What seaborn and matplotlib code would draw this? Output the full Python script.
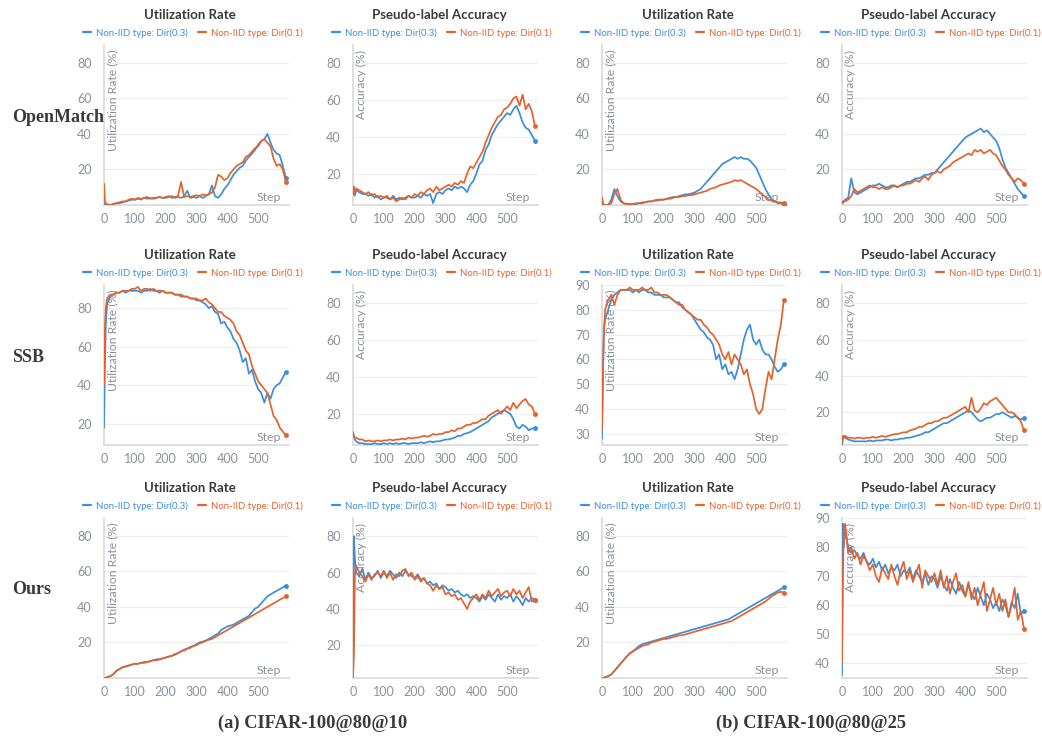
import pandas as pd
import matplotlib.pyplot as plt
import seaborn as sns
from matplotlib.lines import Line2D

# steps logged (first few steps are denser)
STEPS = [0, 3, 6] + list(range(10, 600, 10))

# ---------------- OpenMatch ----------------
om_util_a_03 = [1, 0, 0,
                0, 0, 0.5, 1, 1, 1.5, 2, 2.5, 3, 3,
                3.5, 3, 4, 3.5, 4, 3.5, 4, 4.5, 4, 4,
                4.5, 5, 4, 4.5, 4, 5, 8, 4, 4.5, 4,
                5, 4, 5, 6, 11, 5, 4, 6, 9, 11,
                14, 17, 19, 21, 22, 25, 27, 29, 31, 34,
                36, 37, 40, 35, 31, 29, 28, 22, 15]
om_util_a_01 = [12, 2, 1,
                0.5, 0, 0.5, 1, 1.5, 2, 2, 3, 3.5, 3,
                4, 3.5, 4, 4.5, 3.5, 4, 4, 4.5, 4, 4.5,
                5, 4, 4.5, 5, 13, 4.5, 5, 4.5, 5, 5.5,
                5, 6, 5.5, 6, 7, 10, 17, 16, 14, 15,
                18, 20, 22, 23, 24, 27, 28, 30, 32, 33,
                36, 37, 35, 33, 26, 22, 23, 20, 13]
om_acc_a_03 = [9, 10, 8,
               11, 10, 9, 9, 8, 9, 7, 8, 6, 7,
               7, 6, 8, 6, 7, 6, 7, 8, 7, 7,
               8, 7, 9, 8, 9, 4, 9, 10, 9, 11,
               12, 11, 13, 12, 13, 12, 10, 14, 16, 20,
               25, 27, 33, 36, 41, 44, 47, 49, 51, 53,
               52, 55, 57, 53, 48, 45, 44, 41, 38]
om_acc_a_01 = [10, 13, 9,
               12, 11, 10, 9, 10, 8, 9, 7, 8, 7,
               8, 6, 7, 5, 6, 7, 6, 8, 7, 9,
               8, 10, 9, 11, 12, 10, 13, 11, 12, 13,
               14, 13, 15, 14, 16, 15, 20, 24, 23, 26,
               29, 32, 37, 41, 45, 48, 51, 52, 55, 56,
               58, 61, 62, 57, 63, 55, 58, 54, 46]
om_util_b_03 = [4, 0, 0,
                0, 0, 3, 9, 5, 2, 1, 0.5, 0.5, 0.5,
                0.5, 1, 1, 1.5, 2, 2, 2.5, 3, 3, 3,
                3.5, 4, 4.5, 4.5, 5, 5.5, 6, 6, 6.5, 7,
                8, 9, 11, 13, 15, 17, 19, 21, 23, 24,
                25, 26, 27, 26, 27, 26, 26, 25, 23, 21,
                17, 13, 9, 6, 3, 2, 1, 1, 0]
om_util_b_01 = [4, 1, 0,
                0, 0, 1, 6, 9, 3, 1, 0.5, 0.5, 0.5,
                1, 1, 1.5, 1.5, 2, 2, 2.5, 2.5, 3, 3,
                3.5, 3.5, 4, 4.5, 4.5, 5, 5, 5.5, 5.5, 6,
                6.5, 7, 7.5, 8, 9, 9.5, 10, 11, 11.5, 12,
                12.5, 13, 14, 13.5, 14, 13, 12, 11, 10, 9,
                7.5, 6, 4.5, 3, 2.5, 2, 1.5, 1.5, 1]
om_acc_b_03 = [2, 1, 2,
               3, 4, 15, 7, 6, 7, 8, 9, 10, 11,
               11, 12, 11, 10, 10, 11, 11, 10, 11, 12,
               13, 13, 14, 15, 15, 16, 17, 17, 18, 18,
               20, 22, 24, 26, 28, 30, 32, 34, 36, 38,
               39, 40, 41, 42, 43, 41, 42, 40, 38, 36,
               32, 26, 21, 18, 15, 12, 9, 7, 5]
om_acc_b_01 = [1, 2, 2,
               2, 3, 5, 9, 7, 8, 9, 10, 11, 10,
               10, 9, 10, 9, 9, 10, 11, 10, 11, 11,
               12, 12, 13, 14, 13, 15, 16, 14, 17, 18,
               19, 18, 20, 21, 22, 24, 25, 26, 27, 28,
               29, 28, 31, 30, 31, 29, 30, 31, 29, 28,
               25, 22, 20, 17, 15, 13, 15, 14, 12]

# ---------------- SSB ----------------
ssb_util_a_03 = [18, 50, 72,
                 82, 86, 87, 88, 88, 89, 88, 89, 89, 89,
                 89, 88, 89, 89, 90, 89, 89, 88, 89, 88,
                 88, 88, 87, 87, 87, 86, 86, 85, 85, 84,
                 84, 83, 82, 80, 81, 78, 77, 72, 73, 70,
                 68, 64, 62, 58, 52, 54, 46, 48, 42, 38,
                 36, 31, 36, 33, 38, 40, 41, 44, 47]
ssb_util_a_01 = [40, 70, 80,
                 85, 87, 87, 88, 88, 89, 89, 89, 90, 90,
                 91, 89, 90, 90, 89, 90, 89, 89, 89, 88,
                 88, 88, 87, 87, 86, 86, 86, 85, 85, 85,
                 84, 84, 85, 83, 82, 80, 78, 78, 76, 75,
                 74, 72, 68, 66, 62, 58, 56, 50, 46, 42,
                 40, 38, 36, 30, 24, 22, 18, 16, 14]
ssb_acc_a_03 = [10, 8, 6,
                5, 4, 4, 3.5, 3.5, 3.5, 4, 3.5, 3.5, 4,
                3.5, 4, 3.5, 4, 3.5, 4, 4, 3.5, 4, 4,
                4, 4.5, 4, 4.5, 5, 4.5, 5, 5, 5.5, 6,
                6, 6.5, 7, 8, 8, 9, 9.5, 10, 11, 12,
                13, 14, 15, 16, 18, 19, 20, 21, 22, 21,
                20, 17, 13, 12, 14, 13, 11, 12, 12]
ssb_acc_a_01 = [9, 8, 7,
                7, 6, 6, 5, 5.5, 5, 5, 5.5, 5, 5.5,
                5.5, 6, 5.5, 6, 6, 6.5, 6, 7, 6.5, 7,
                7, 7.5, 8, 7.5, 8, 9, 8.5, 9, 9, 10,
                10, 11, 10.5, 12, 12, 13, 14, 14, 15, 15,
                16, 17, 17, 19, 20, 21, 22, 20, 22, 24,
                22, 26, 23, 25, 27, 28, 25, 24, 20]
ssb_util_b_03 = [28, 52, 72,
                 76, 80, 84, 86, 87, 88, 88, 88, 88, 87,
                 88, 87, 88, 88, 87, 87, 86, 86, 86, 85,
                 85, 85, 84, 83, 83, 81, 80, 79, 78, 76,
                 74, 72, 71, 69, 68, 66, 60, 62, 56, 58,
                 54, 55, 52, 56, 62, 68, 72, 74, 68, 66,
                 68, 64, 62, 62, 60, 57, 55, 56, 58]
ssb_util_b_01 = [32, 55, 70,
                 80, 84, 86, 82, 86, 88, 88, 88, 89, 88,
                 88, 88, 89, 88, 88, 89, 87, 87, 86, 86,
                 86, 85, 84, 83, 82, 82, 80, 79, 78, 77,
                 76, 76, 74, 73, 71, 70, 68, 66, 62, 60,
                 63, 58, 62, 60, 58, 54, 56, 50, 46, 40,
                 38, 40, 48, 55, 52, 60, 68, 74, 84]
ssb_acc_b_03 = [2, 6, 7,
                6, 5, 4.5, 4, 4, 4, 4, 4, 4.5, 4,
                4.5, 4.5, 4.5, 5, 5, 4.5, 5, 5, 5.5, 5.5,
                6, 6, 6.5, 7, 7.5, 8, 9, 9, 10, 11,
                12, 13, 14, 14, 15, 16, 17, 18, 19, 20,
                21, 20, 18, 16, 15, 16, 17, 17, 18, 19,
                19, 20, 19, 18, 17, 18, 17, 16, 17]
ssb_acc_b_01 = [3, 7, 6,
                7, 6, 6, 5.5, 6, 6, 5.5, 6, 6, 6.5,
                6, 6.5, 7, 6.5, 7, 7.5, 8, 8, 8.5, 9,
                9, 10, 10.5, 11, 12, 12, 13, 14, 14, 15,
                15, 16, 17, 17, 18, 19, 20, 21, 22, 23,
                20, 28, 21, 20, 22, 25, 24, 26, 27, 28,
                26, 24, 22, 20, 20, 19, 17, 15, 10]

# ---------------- Ours ----------------
ours_util_a_03 = [0, 0, 0,
                  0.5, 1, 2, 4, 5, 6, 6.5, 7, 7.5, 8,
                  8, 8.5, 9, 9, 9.5, 10, 10.5, 10.5, 11, 11.5,
                  12, 12.5, 13.5, 14, 15, 16, 16.5, 17.5, 18, 19,
                  20, 20.5, 21, 22, 23, 24, 25, 27, 28, 29,
                  29.5, 30, 31, 32, 33, 34, 35, 37, 39, 40,
                  42, 44, 46, 47, 48, 49, 50, 51, 52]
ours_util_a_01 = [0, 0, 0,
                  0.5, 1, 2, 4, 5, 6, 6.5, 7, 7.5, 8,
                  8, 8.5, 8.5, 9, 9.5, 10, 10, 10.5, 11, 11.5,
                  12, 12.5, 13, 14, 15, 15.5, 16.5, 17, 18, 18.5,
                  19.5, 20, 21, 21.5, 22, 23, 24, 25, 26, 27,
                  28, 29, 30, 31, 32, 33, 34, 35, 36, 37,
                  38, 39, 40, 41, 42, 43, 44, 45, 46]
ours_acc_a_03 = [4, 80, 68,
                 60, 58, 62, 56, 60, 57, 58, 61, 57, 60,
                 58, 61, 59, 57, 60, 58, 61, 59, 58, 57,
                 59, 56, 57, 54, 55, 53, 54, 51, 53, 52,
                 50, 51, 49, 50, 48, 47, 48, 46, 47, 46,
                 44, 47, 45, 48, 46, 44, 48, 45, 47, 46,
                 48, 44, 47, 45, 42, 46, 44, 46, 45]
ours_acc_a_01 = [2, 15, 58,
                 64, 60, 58, 55, 59, 56, 59, 60, 58, 61,
                 57, 60, 56, 59, 58, 61, 62, 58, 60, 56,
                 58, 55, 57, 54, 53, 50, 53, 51, 52, 48,
                 49, 47, 48, 45, 46, 43, 40, 44, 46, 48,
                 45, 48, 46, 50, 47, 49, 51, 47, 49, 50,
                 47, 51, 48, 50, 46, 49, 52, 44, 45]
ours_util_b_03 = [0, 0, 0,
                  0.5, 1, 2, 4, 6, 8, 10, 12, 14, 15,
                  16.5, 18, 19, 19.5, 20, 20.5, 21, 21.5, 22, 22.5,
                  23, 23.5, 24, 24.5, 25, 25.5, 26, 26.5, 27, 27.5,
                  28, 28.5, 29, 29.5, 30, 30.5, 31, 31.5, 32, 32.5,
                  33, 34, 35, 36, 37, 38, 39, 40, 41, 42,
                  43, 44, 45, 46, 47, 48, 49, 50, 51]
ours_util_b_01 = [0, 0, 0,
                  0.5, 1, 2, 4, 6, 8, 10, 12, 13.5, 15,
                  16, 17, 18, 18.5, 19, 20, 20.5, 21, 21.5, 22,
                  22, 22.5, 23, 23.5, 24, 24, 24.5, 25, 25.5, 26,
                  26.5, 27, 27.5, 28, 28.5, 29, 29.5, 30, 30.5, 31,
                  31.5, 32, 33, 34, 35, 36, 37, 38, 39, 40,
                  41, 42, 43, 44.5, 46, 47, 48, 48.5, 48]
ours_acc_b_03 = [36, 88, 80,
                 86, 80, 78, 79, 77, 76, 78, 75, 74, 76,
                 73, 75, 72, 74, 71, 73, 72, 74, 70, 72,
                 71, 73, 69, 72, 70, 68, 71, 67, 70, 69,
                 66, 70, 67, 65, 69, 66, 64, 68, 65, 63,
                 67, 64, 62, 66, 63, 60, 64, 62, 59, 61,
                 58, 62, 60, 56, 61, 59, 64, 57, 58]
ours_acc_b_01 = [40, 70, 86,
                 88, 78, 80, 76, 78, 74, 77, 75, 72, 74,
                 70, 68, 73, 71, 69, 74, 70, 67, 72, 75,
                 69, 72, 68, 71, 74, 66, 72, 70, 68, 71,
                 67, 72, 66, 70, 64, 68, 71, 65, 67, 63,
                 68, 62, 66, 60, 64, 68, 58, 62, 66, 60,
                 64, 58, 62, 56, 60, 66, 55, 58, 52]

ROW_NAMES = ['OpenMatch', 'SSB', 'Ours']
TITLES = ['Utilization Rate', 'Pseudo-label Accuracy']
YLABELS = ['Utilization Rate (%)', 'Accuracy (%)']
LEGEND_LABELS = ['Non-IID type: Dir(0.3)', 'Non-IID type: Dir(0.1)']
CAPTIONS = ['(a) CIFAR-100@80@10', '(b) CIFAR-100@80@25']

# (blue, orange, ylim, yticks) per row / column
panels = [
    [(om_util_a_03, om_util_a_01, (0, 90), [20, 40, 60, 80]),
     (om_acc_a_03, om_acc_a_01, (3, 90), [20, 40, 60, 80]),
     (om_util_b_03, om_util_b_01, (0, 90), [20, 40, 60, 80]),
     (om_acc_b_03, om_acc_b_01, (0, 90), [20, 40, 60, 80])],
    [(ssb_util_a_03, ssb_util_a_01, (9, 92), [20, 40, 60, 80]),
     (ssb_acc_a_03, ssb_acc_a_01, (3, 90), [20, 40, 60, 80]),
     (ssb_util_b_03, ssb_util_b_01, (25.5, 90), [30, 40, 50, 60, 70, 80, 90]),
     (ssb_acc_b_03, ssb_acc_b_01, (2, 90), [20, 40, 60, 80])],
    [(ours_util_a_03, ours_util_a_01, (0, 90), [20, 40, 60, 80]),
     (ours_acc_a_03, ours_acc_a_01, (2, 90), [20, 40, 60, 80]),
     (ours_util_b_03, ours_util_b_01, (0, 90), [20, 40, 60, 80]),
     (ours_acc_b_03, ours_acc_b_01, (35, 90), [40, 50, 60, 70, 80, 90])],
]

sns.set_theme(style="white")
plt.rcParams['font.family'] = ['Lato', 'DejaVu Sans']

BLUE = '#3b8edb'
ORANGE = '#e2632c'
GRAY = '#8b909a'
AXIS = '#dcdcdc'

W, H = 1042, 738
fig = plt.figure(figsize=(W / 100, H / 100), dpi=100)

col_left = [104, 353, 602, 842]
row_top = [45, 285, 518]
ax_w, ax_h = 185, 160

for r in range(3):
    for c in range(4):
        blue, orange, ylim, yticks = panels[r][c]
        ax = fig.add_axes([col_left[c] / W, 1 - (row_top[r] + ax_h) / H, ax_w / W, ax_h / H])
        df = pd.DataFrame({'step': STEPS, 'b': blue, 'o': orange})
        for col, color in [('b', BLUE), ('o', ORANGE)]:
            sns.lineplot(data=df, x='step', y=col, ax=ax, color=color, lw=1.25,
                         marker='o', markevery=[-1], markersize=3.5,
                         markeredgecolor=color, markeredgewidth=0, zorder=3)
        ax.set_xlim(0, 600)
        ax.set_ylim(*ylim)
        ax.set_xticks([0, 100, 200, 300, 400, 500])
        ax.set_yticks(yticks)
        ax.set_xlabel('')
        ax.set_ylabel('')
        ax.yaxis.grid(True, color='#eeeeee', lw=0.9)
        ax.set_axisbelow(True)
        for s in ['top', 'right']:
            ax.spines[s].set_visible(False)
        for s in ['left', 'bottom']:
            ax.spines[s].set_color(AXIS)
            ax.spines[s].set_linewidth(1.3)
        ax.tick_params(axis='x', colors=AXIS, direction='inout', length=5, width=1,
                       labelcolor=GRAY, labelsize=9, pad=3)
        ax.tick_params(axis='y', length=0, labelcolor=GRAY, labelsize=9, pad=9)

        kind = c % 2
        ax.text(0.045, 0.97, YLABELS[kind], rotation=90, ha='center', va='top',
                color=GRAY, fontsize=8.8, transform=ax.transAxes, zorder=1)
        ax.text(0.955, 0.045, 'Step', ha='right', va='center', color=GRAY,
                fontsize=8.8, transform=ax.transAxes, zorder=1)
        ax.text(0.465, 1.19, TITLES[kind], ha='center', va='center', color='#3a3a3a',
                fontsize=9.5, fontweight='bold', transform=ax.transAxes)
        handles = [Line2D([], [], color=BLUE, lw=1.6), Line2D([], [], color=ORANGE, lw=1.6)]
        leg = ax.legend(handles, LEGEND_LABELS, loc='center', bbox_to_anchor=(0.48, 1.075),
                        ncol=2, frameon=False, fontsize=6.9, handlelength=0.9,
                        handletextpad=0.5, columnspacing=1.0, borderaxespad=0, borderpad=0)
        for txt, color in zip(leg.get_texts(), [BLUE, ORANGE]):
            txt.set_color(color)

    fig.text(12 / W, 1 - (row_top[r] + 72) / H, ROW_NAMES[r], ha='left', va='center',
             family='Liberation Serif', fontweight='bold', fontsize=13, color='#3a3a3a')

fig.text(313 / W, 1 - 723 / H, CAPTIONS[0], ha='center', va='center',
         family='Liberation Serif', fontweight='bold', fontsize=13.3, color='#3a3a3a')
fig.text(811 / W, 1 - 723 / H, CAPTIONS[1], ha='center', va='center',
         family='Liberation Serif', fontweight='bold', fontsize=13.3, color='#3a3a3a')

fig.savefig('out.png', dpi=100, facecolor='white')
